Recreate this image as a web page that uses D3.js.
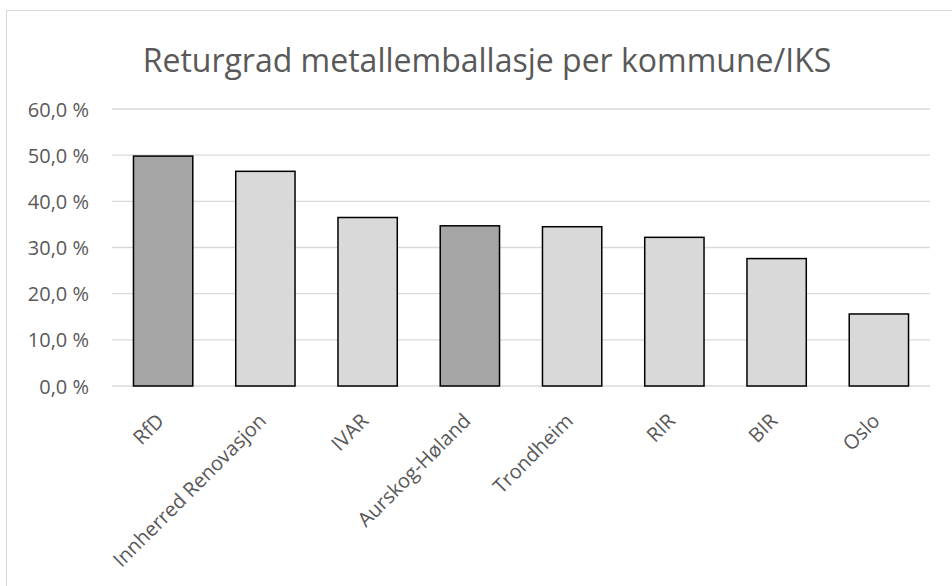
<!DOCTYPE html>
<html>
<head>
<meta charset="utf-8">
<script src="https://cdn.jsdelivr.net/npm/d3@7"></script>
<style>
  body { margin: 0; background: #fff; }
  svg { display: block; }
  text { font-family: "Open Sans", "Noto Sans", sans-serif; fill: #595959; }
</style>
</head>
<body>
<svg id="chart"></svg>
<script>
var categories = ['RfD', 'Innherred Renovasjon', 'IVAR', 'Aurskog-Høland', 'Trondheim', 'RIR', 'BIR', 'Oslo']
var values = [49.8, 46.5, 36.5, 34.7, 34.5, 32.2, 27.6, 15.6]
var highlighted = ['RfD', 'Aurskog-Høland']
var yTicks = [0, 10, 20, 30, 40, 50, 60]
var title = 'Returgrad metallemballasje per kommune/IKS'

var width = 952, height = 586
var svg = d3.select('#chart').attr('width', width).attr('height', height)

var margin = {left: 112, right: 22, top: 109, bottom: 200}

var x = d3.scaleBand()
    .domain(categories)
    .range([margin.left, width - margin.right])
    .paddingInner(0.42)
    .paddingOuter(0.21)

var y = d3.scaleLinear()
    .domain([0, 60])
    .range([height - margin.bottom, margin.top])

// chart area border
svg.append('rect')
    .attr('x', 6.5).attr('y', 10.5)
    .attr('width', width + 10).attr('height', height + 10)
    .attr('fill', 'none')
    .attr('stroke', '#d9d9d9')

svg.append('text')
    .attr('x', 487).attr('y', 72)
    .attr('text-anchor', 'middle')
    .style('font-size', '32px')
    .text(title)

// gridlines
svg.append('g')
    .selectAll('line')
    .data(yTicks)
    .join('line')
    .attr('x1', margin.left).attr('x2', width - margin.right)
    .attr('y1', d => y(d)).attr('y2', d => y(d))
    .attr('stroke', '#d9d9d9')
    .attr('stroke-width', 1.3)

var yAxis = svg.append('g')
    .attr('transform', 'translate(' + (margin.left - 20) + ',0)')
    .call(d3.axisLeft(y).tickValues(yTicks).tickSize(0)
        .tickFormat(d => d.toFixed(1).replace('.', ',') + ' %'))
yAxis.select('.domain').remove()
yAxis.selectAll('text').style('font-size', '20px').attr('dy', '0.35em').attr('fill', '#595959')

svg.append('g')
    .selectAll('rect')
    .data(categories)
    .join('rect')
    .attr('x', d => x(d))
    .attr('y', (d, i) => y(values[i]))
    .attr('width', x.bandwidth())
    .attr('height', (d, i) => y(0) - y(values[i]))
    .attr('fill', d => highlighted.includes(d) ? '#a5a5a5' : '#d9d9d9')
    .attr('stroke', '#000')
    .attr('stroke-width', 1.5)

var xAxis = svg.append('g')
    .attr('transform', 'translate(0,' + y(0) + ')')
    .call(d3.axisBottom(x).tickSize(0))
xAxis.select('.domain').remove()
xAxis.selectAll('text')
    .style('font-size', '20px')
    .attr('fill', '#595959')
    .attr('text-anchor', 'end')
    .attr('dy', 0)
    .attr('transform', 'translate(0,34) rotate(-45)')
</script>
</body>
</html>
